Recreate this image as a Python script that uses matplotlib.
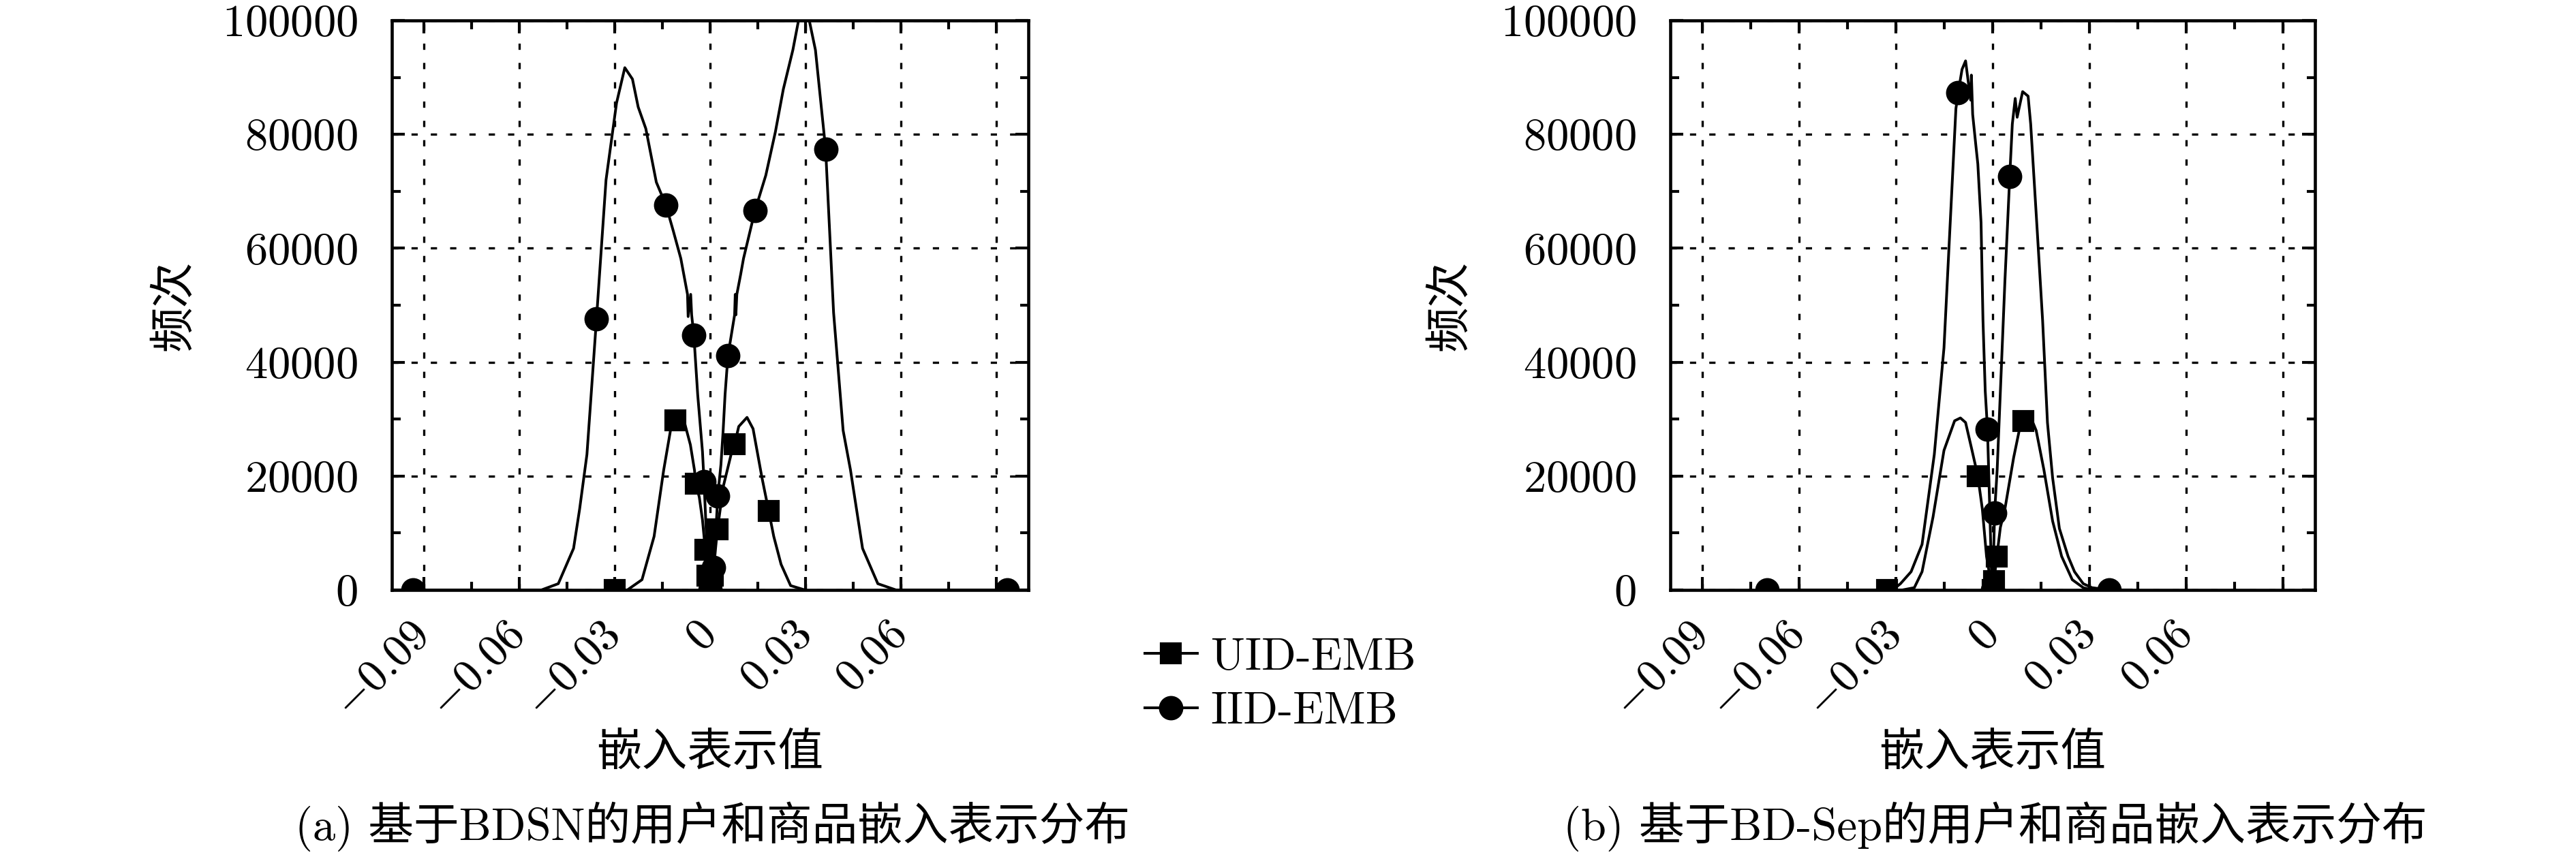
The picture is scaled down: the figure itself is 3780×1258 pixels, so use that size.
import matplotlib
matplotlib.use('Agg')
import matplotlib.pyplot as plt
from matplotlib.ticker import MultipleLocator

plt.rcParams['font.family'] = ['cmr10', 'Noto Sans CJK SC']
plt.rcParams['mathtext.fontset'] = 'cm'
plt.rcParams['axes.unicode_minus'] = False
plt.rcParams['lines.scale_dashes'] = False
plt.rcParams['font.size'] = 16

# (a) BDSN
uid_a_x = [-0.0300, -0.0260, -0.0214, -0.0176, -0.0146, -0.0123, -0.0109, -0.0081, -0.0062,
           -0.0049, -0.0045, -0.0034, -0.0024, -0.0015, -0.0008, -0.0003, 0.0, 0.0004, 0.0008,
           0.0014, 0.0023, 0.0042, 0.0069, 0.0077, 0.0090, 0.0116, 0.0135, 0.0163, 0.0184,
           0.0200, 0.0223, 0.0253, 0.0298]
uid_a_y = [0, 0, 1800, 9400, 21000, 28500, 29800, 29500, 25500,
           21000, 18700, 16300, 12300, 7000, 2500, 800, 0, 800, 2500,
           5500, 10600, 18300, 24500, 25600, 28700, 30300, 28300, 19700, 13900,
           9400, 4500, 760, 0]
uid_a_marks = [0, 6, 10, 13, 14, 16, 17, 18, 20, 23, 28]

iid_a_x = [-0.0933, -0.0600, -0.0530, -0.0477, -0.0429, -0.0410, -0.0387, -0.0357, -0.0327,
           -0.0294, -0.0268, -0.0244, -0.0226, -0.0202, -0.0169, -0.0139, -0.0116, -0.0092,
           -0.0071, -0.0069, -0.0061, -0.0058, -0.0051, -0.0039, -0.0024, -0.0019, -0.0012,
           -0.0006, -0.0002, 0.0, 0.0002, 0.0010, 0.0017, 0.0024, 0.0034, 0.0041, 0.0047,
           0.0056, 0.0077, 0.0079, 0.0081, 0.0084, 0.0096, 0.0105, 0.0141, 0.0175, 0.0205,
           0.0230, 0.0260, 0.0283, 0.0306, 0.0331, 0.0363, 0.0388, 0.0418, 0.0441, 0.0479,
           0.0527, 0.0584, 0.0933]
iid_a_y = [0, 0, 0, 1100, 7300, 14200, 23800, 47600, 72000,
           85500, 91700, 89700, 84800, 81000, 71600, 67600, 63100, 58200,
           51900, 48000, 51900, 48300, 44700, 34300, 24300, 19000, 10000,
           4000, 1000, 0, 1000, 4000, 9000, 16500, 22000, 28000, 34300,
           41100, 48300, 51900, 48300, 51900, 55400, 58200, 66600, 72800, 80400,
           87900, 94800, 101500, 101500, 94800, 77400, 48700, 28000, 21100, 7300,
           1100, 0, 0]
iid_a_marks = [0, 7, 15, 22, 25, 29, 31, 33, 37, 44, 52, 59]

# (b) BD-Sep
uid_b_x = [-0.0328, -0.0280, -0.0243, -0.0219, -0.0185, -0.0151, -0.0118, -0.0100, -0.0084,
           -0.0064, -0.0046, -0.0032, -0.0019, -0.0005, 0.0, 0.0004, 0.0013, 0.0024, 0.0038,
           0.0065, 0.0085, 0.0095, 0.0119, 0.0135, 0.0159, 0.0186, 0.0214, 0.0247, 0.0281,
           0.0308]
uid_b_y = [0, 0, 400, 3200, 12800, 24500, 29700, 30200, 29400,
           24500, 20000, 14200, 5900, 1100, 0, 1500, 5900, 11000, 14200,
           23200, 28700, 29700, 30200, 28000, 21100, 12100, 5900, 1800, 400,
           0]
uid_b_marks = [0, 10, 14, 15, 16, 21]

iid_b_x = [-0.0700, -0.0400, -0.0310, -0.0286, -0.0253, -0.0219, -0.0181, -0.0151, -0.0131,
           -0.0114, -0.0107, -0.0095, -0.0084, -0.0074, -0.0068, -0.0066, -0.0062, -0.0052,
           -0.0046, -0.0036, -0.0030, -0.0023, -0.0016, -0.0009, -0.0003, 0.0, 0.0002, 0.0006,
           0.0014, 0.0024, 0.0038, 0.0047, 0.0053, 0.0061, 0.0070, 0.0076, 0.0093, 0.0110,
           0.0118, 0.0139, 0.0155, 0.0170, 0.0186, 0.0207, 0.0234, 0.0254, 0.0281, 0.0308,
           0.0362, 0.0430]
iid_b_y = [0, 0, 0, 1100, 3200, 8000, 23800, 42500, 65200,
           84500, 87300, 91400, 92900, 88500, 86000, 90400, 83500, 78000,
           74800, 64500, 47300, 34900, 28200, 14200, 1800, 0, 4000, 13500,
           21100, 34900, 54200, 65200, 72600, 81800, 86300, 83000, 87500, 86700,
           81800, 62400, 47300, 29400, 19700, 10800, 5900, 3200, 1100, 400,
           0, 0]
iid_b_marks = [0, 10, 22, 25, 27, 32, 48]

xticks = [-0.09, -0.06, -0.03, 0, 0.03, 0.06, 0.09]
xtick_labels = ['$-0.09$', '$-0.06$', '$-0.03$', '$0$', '$0.03$', '$0.06$', '']
yticks = [0, 20000, 40000, 60000, 80000, 100000]
ytick_labels = ['$0$', '$20000$', '$40000$', '$60000$', '$80000$', '$100000$']

W, H = 3780, 1258
fig = plt.figure(figsize=(12.6, 4.1934), dpi=300)
ax_a = fig.add_axes([575 / W, 1 - 866 / H, 934 / W, 836 / H])
ax_b = fig.add_axes([2451 / W, 1 - 866 / H, 946 / W, 836 / H])


def draw(ax, ux, uy, um, ix, iy, im, caption):
    l1, = ax.plot(ux, uy, color='black', lw=0.95, marker='s', ms=6.8,
                  markevery=um, label='UID-EMB')
    l2, = ax.plot(ix, iy, color='black', lw=0.95, marker='o', ms=7.6,
                  markevery=im, label='IID-EMB')
    ax.set_xlim(-0.1, 0.1)
    ax.set_ylim(0, 100000)
    ax.set_xticks(xticks)
    ax.set_xticklabels(xtick_labels, rotation=45, ha='right', va='center',
                       rotation_mode='anchor')
    ax.set_yticks(yticks)
    ax.set_yticklabels(ytick_labels)
    ax.xaxis.set_minor_locator(MultipleLocator(0.015))
    ax.yaxis.set_minor_locator(MultipleLocator(10000))
    ax.tick_params(which='both', direction='in', top=True, right=True, width=1.0)
    ax.tick_params(which='major', length=4.5)
    ax.tick_params(which='minor', length=3)
    ax.tick_params(axis='y', pad=12)
    ax.tick_params(axis='x', pad=14)
    ax.grid(True, which='major', color='black', linestyle=(0, (2.2, 4.6)), linewidth=0.8)
    for sp in ax.spines.values():
        sp.set_linewidth(1.1)
    ax.set_xlabel('嵌入表示值', family=['Noto Sans CJK SC'], va='center')
    ax.xaxis.set_label_coords(0.5, -0.286)
    ax.set_ylabel('频次', family=['Noto Sans CJK SC'], va='center')
    ax.yaxis.set_label_coords(-0.342, 0.5)
    pos = ax.get_position()
    fig.text(pos.x0 + pos.width / 2 + 0.001, 1 - 1213 / H, caption, ha='center', va='center')
    return l1, l2


h = draw(ax_a, uid_a_x, uid_a_y, uid_a_marks, iid_a_x, iid_a_y, iid_a_marks,
         '(a) 基于BDSN的用户和商品嵌入表示分布')
draw(ax_b, uid_b_x, uid_b_y, uid_b_marks, iid_b_x, iid_b_y, iid_b_marks,
     '(b) 基于BD-Sep的用户和商品嵌入表示分布')

fig.legend(h, ['UID-EMB', 'IID-EMB'], loc='upper left',
           bbox_to_anchor=(1680 / W, 1 - 936 / H), frameon=False, borderpad=0,
           borderaxespad=0, handlelength=1.15, handletextpad=0.3, labelspacing=0.3)

fig.savefig('out.png', dpi=300)
